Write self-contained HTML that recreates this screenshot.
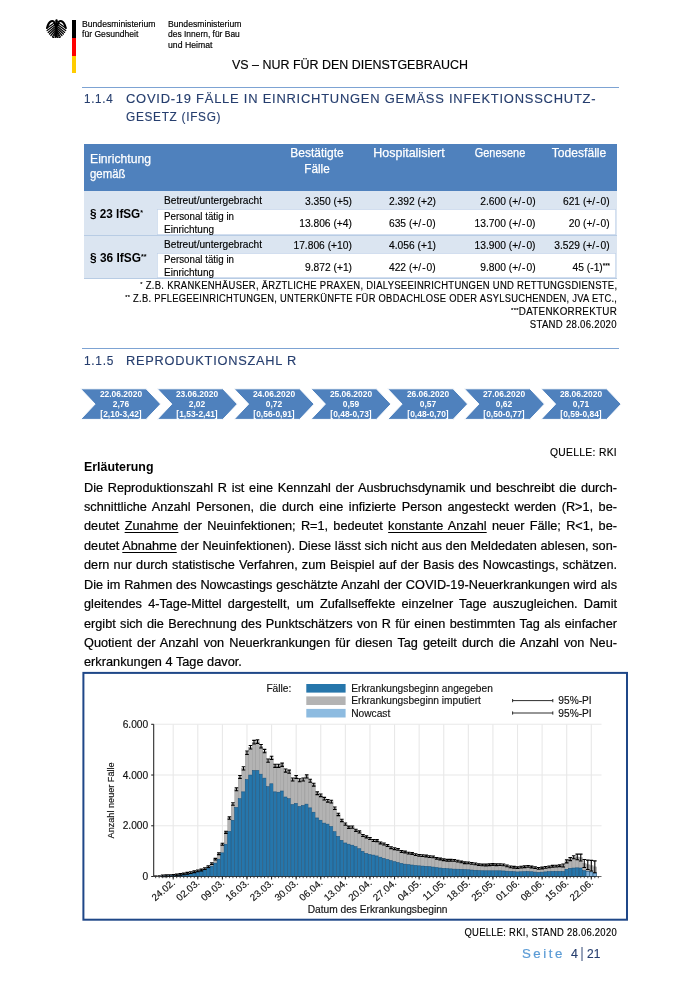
<!DOCTYPE html>
<html lang="de"><head><meta charset="utf-8"><title>Lagebericht COVID-19 – Seite 4</title>
<style>
html,body{margin:0;padding:0;background:#fff;}
body{width:700px;height:990px;position:relative;overflow:hidden;font-family:"Liberation Sans", sans-serif;}
.t{position:absolute;white-space:nowrap;margin:0;padding:0;}
.abs{position:absolute;}
sup{font-size:60%;line-height:0;vertical-align:baseline;position:relative;top:-0.45em;}
u{text-decoration-thickness:0.8px;text-underline-offset:1.5px;}
</style></head><body>
<div class="abs" style="left:72.2px;top:19.7px;width:3.8px;height:18px;background:#000"></div>
<div class="abs" style="left:72.2px;top:37.7px;width:3.8px;height:17.9px;background:#f00"></div>
<div class="abs" style="left:72.2px;top:55.6px;width:3.8px;height:17.6px;background:#ffcc00"></div>
<svg class="abs" style="left:46.1px;top:18.7px" width="20.8" height="19.8" viewBox="0 0 100 96"><g stroke="#000" fill="none" stroke-linecap="round"><path d="M36 22L3 45" stroke-width="6"/><path d="M64 22L97 45" stroke-width="6"/><path d="M40 30L5 56" stroke-width="6"/><path d="M60 30L95 56" stroke-width="6"/><path d="M43 38L10 65" stroke-width="6"/><path d="M57 38L90 65" stroke-width="6"/><path d="M44 46L16 73" stroke-width="6"/><path d="M56 46L84 73" stroke-width="6"/><path d="M45 54L23 80" stroke-width="6"/><path d="M55 54L77 80" stroke-width="6"/><path d="M45 62L31 86" stroke-width="6"/><path d="M55 62L69 86" stroke-width="6"/><path d="M44 30C42 12 33 7 25 11C15 16 8 30 5 42" stroke-width="10"/><path d="M56 30C58 12 67 7 75 11C85 16 92 30 95 42" stroke-width="10"/><path d="M46 64L37 88M37 88L31 93M37 88L40 95" stroke-width="5"/><path d="M54 64L63 88M63 88L69 93M63 88L60 95" stroke-width="5"/></g><path d="M50 1C55 1 57 5 56 9L62 12L55 14C56 20 57 26 57 32L56 66L58 94L50 90L42 94L44 66L43 32C43 26 44 20 45 14C43 8 45 1 50 1Z" fill="#000"/></svg>
<div class="abs" style="left:81.5px;top:86.5px;width:537px;height:1px;background:#7da3d3"></div>
<div class="abs" style="left:84px;top:143.5px;width:533px;height:47.5px;background:#4f81bd"></div>
<div class="abs" style="left:84px;top:191px;width:533px;height:87.80000000000001px;background:#dbe5f1"></div>
<div class="abs" style="left:157.1px;top:209.3px;width:459.4px;height:25.399999999999977px;background:#fff;box-shadow:inset 0 0 0 0.7px #c3d4ea"></div>
<div class="abs" style="left:157.1px;top:253.1px;width:459.4px;height:25.200000000000017px;background:#fff;box-shadow:inset 0 0 0 0.7px #c3d4ea"></div>
<div class="abs" style="left:84px;top:234.7px;width:533px;height:1px;background:#b8cce4"></div>
<div class="abs" style="left:84px;top:278.3px;width:533px;height:1px;background:#b8cce4"></div>
<div class="abs" style="left:81.5px;top:347.6px;width:537px;height:1px;background:#7da3d3"></div>
<svg class="abs" style="left:0;top:0" width="700" height="990" viewBox="0 0 700 990">
<path d="M80.6 388.8H146.1L160.6 404.1L146.1 419.4H80.6L95.1 404.1Z" fill="#4f81bd" stroke="#fff" stroke-width="1"/>
<path d="M157.3 388.8H222.8L237.3 404.1L222.8 419.4H157.3L171.8 404.1Z" fill="#4f81bd" stroke="#fff" stroke-width="1"/>
<path d="M234.1 388.8H299.6L314.1 404.1L299.6 419.4H234.1L248.6 404.1Z" fill="#4f81bd" stroke="#fff" stroke-width="1"/>
<path d="M310.9 388.8H376.4L390.9 404.1L376.4 419.4H310.9L325.4 404.1Z" fill="#4f81bd" stroke="#fff" stroke-width="1"/>
<path d="M387.6 388.8H453.1L467.6 404.1L453.1 419.4H387.6L402.1 404.1Z" fill="#4f81bd" stroke="#fff" stroke-width="1"/>
<path d="M464.4 388.8H529.9L544.4 404.1L529.9 419.4H464.4L478.9 404.1Z" fill="#4f81bd" stroke="#fff" stroke-width="1"/>
<path d="M541.1 388.8H606.6L621.1 404.1L606.6 419.4H541.1L555.6 404.1Z" fill="#4f81bd" stroke="#fff" stroke-width="1"/>
</svg>
<svg class="abs" style="left:0;top:0" width="700" height="990" viewBox="0 0 700 990" font-family="Liberation Sans, sans-serif">
<rect x="83.4" y="672.9" width="543.6" height="246.80000000000007" fill="#fff" stroke="#1f4788" stroke-width="2"/>
<line x1="173.20" x2="173.20" y1="724.3" y2="876.5" stroke="#e8e8e8" stroke-width="1.1"/>
<line x1="197.79" x2="197.79" y1="724.3" y2="876.5" stroke="#e8e8e8" stroke-width="1.1"/>
<line x1="222.39" x2="222.39" y1="724.3" y2="876.5" stroke="#e8e8e8" stroke-width="1.1"/>
<line x1="246.98" x2="246.98" y1="724.3" y2="876.5" stroke="#e8e8e8" stroke-width="1.1"/>
<line x1="271.58" x2="271.58" y1="724.3" y2="876.5" stroke="#e8e8e8" stroke-width="1.1"/>
<line x1="296.17" x2="296.17" y1="724.3" y2="876.5" stroke="#e8e8e8" stroke-width="1.1"/>
<line x1="320.76" x2="320.76" y1="724.3" y2="876.5" stroke="#e8e8e8" stroke-width="1.1"/>
<line x1="345.36" x2="345.36" y1="724.3" y2="876.5" stroke="#e8e8e8" stroke-width="1.1"/>
<line x1="369.95" x2="369.95" y1="724.3" y2="876.5" stroke="#e8e8e8" stroke-width="1.1"/>
<line x1="394.55" x2="394.55" y1="724.3" y2="876.5" stroke="#e8e8e8" stroke-width="1.1"/>
<line x1="419.14" x2="419.14" y1="724.3" y2="876.5" stroke="#e8e8e8" stroke-width="1.1"/>
<line x1="443.74" x2="443.74" y1="724.3" y2="876.5" stroke="#e8e8e8" stroke-width="1.1"/>
<line x1="468.33" x2="468.33" y1="724.3" y2="876.5" stroke="#e8e8e8" stroke-width="1.1"/>
<line x1="492.92" x2="492.92" y1="724.3" y2="876.5" stroke="#e8e8e8" stroke-width="1.1"/>
<line x1="517.52" x2="517.52" y1="724.3" y2="876.5" stroke="#e8e8e8" stroke-width="1.1"/>
<line x1="542.11" x2="542.11" y1="724.3" y2="876.5" stroke="#e8e8e8" stroke-width="1.1"/>
<line x1="566.71" x2="566.71" y1="724.3" y2="876.5" stroke="#e8e8e8" stroke-width="1.1"/>
<line x1="591.30" x2="591.30" y1="724.3" y2="876.5" stroke="#e8e8e8" stroke-width="1.1"/>
<line x1="153.7" x2="601.5" y1="825.77" y2="825.77" stroke="#e8e8e8" stroke-width="1.1"/>
<line x1="153.7" x2="601.5" y1="775.03" y2="775.03" stroke="#e8e8e8" stroke-width="1.1"/>
<line x1="153.7" x2="601.5" y1="724.30" y2="724.30" stroke="#e8e8e8" stroke-width="1.1"/>
<rect x="160.90" y="875.88" width="3.51" height="0.62" fill="#b3b3b3" stroke="#8f8f8f" stroke-width="0.35"/>
<rect x="160.90" y="876.00" width="3.51" height="0.50" fill="#2676ab" stroke="#17527e" stroke-width="0.55"/>
<rect x="164.42" y="875.74" width="3.51" height="0.76" fill="#b3b3b3" stroke="#8f8f8f" stroke-width="0.35"/>
<rect x="164.42" y="875.91" width="3.51" height="0.59" fill="#2676ab" stroke="#17527e" stroke-width="0.55"/>
<rect x="167.93" y="875.57" width="3.51" height="0.93" fill="#b3b3b3" stroke="#8f8f8f" stroke-width="0.35"/>
<rect x="167.93" y="875.83" width="3.51" height="0.67" fill="#2676ab" stroke="#17527e" stroke-width="0.55"/>
<rect x="171.44" y="875.31" width="3.51" height="1.19" fill="#b3b3b3" stroke="#8f8f8f" stroke-width="0.35"/>
<rect x="171.44" y="875.66" width="3.51" height="0.84" fill="#2676ab" stroke="#17527e" stroke-width="0.55"/>
<rect x="174.96" y="874.97" width="3.51" height="1.53" fill="#b3b3b3" stroke="#8f8f8f" stroke-width="0.35"/>
<rect x="174.96" y="875.40" width="3.51" height="1.10" fill="#2676ab" stroke="#17527e" stroke-width="0.55"/>
<rect x="178.47" y="874.46" width="3.51" height="2.04" fill="#b3b3b3" stroke="#8f8f8f" stroke-width="0.35"/>
<rect x="178.47" y="874.97" width="3.51" height="1.53" fill="#2676ab" stroke="#17527e" stroke-width="0.55"/>
<rect x="181.98" y="873.94" width="3.51" height="2.56" fill="#b3b3b3" stroke="#8f8f8f" stroke-width="0.35"/>
<rect x="181.98" y="874.54" width="3.51" height="1.96" fill="#2676ab" stroke="#17527e" stroke-width="0.55"/>
<rect x="185.50" y="873.26" width="3.51" height="3.24" fill="#b3b3b3" stroke="#8f8f8f" stroke-width="0.35"/>
<rect x="185.50" y="873.94" width="3.51" height="2.56" fill="#2676ab" stroke="#17527e" stroke-width="0.55"/>
<rect x="189.01" y="872.57" width="3.51" height="3.93" fill="#b3b3b3" stroke="#8f8f8f" stroke-width="0.35"/>
<rect x="189.01" y="873.34" width="3.51" height="3.16" fill="#2676ab" stroke="#17527e" stroke-width="0.55"/>
<rect x="192.52" y="871.71" width="3.51" height="4.79" fill="#b3b3b3" stroke="#8f8f8f" stroke-width="0.35"/>
<rect x="192.52" y="872.57" width="3.51" height="3.93" fill="#2676ab" stroke="#17527e" stroke-width="0.55"/>
<rect x="196.04" y="870.86" width="3.51" height="5.64" fill="#b3b3b3" stroke="#8f8f8f" stroke-width="0.35"/>
<rect x="196.04" y="871.80" width="3.51" height="4.70" fill="#2676ab" stroke="#17527e" stroke-width="0.55"/>
<rect x="199.55" y="870.00" width="3.51" height="6.50" fill="#b3b3b3" stroke="#8f8f8f" stroke-width="0.35"/>
<rect x="199.55" y="871.03" width="3.51" height="5.47" fill="#2676ab" stroke="#17527e" stroke-width="0.55"/>
<rect x="203.06" y="868.63" width="3.51" height="7.87" fill="#b3b3b3" stroke="#8f8f8f" stroke-width="0.35"/>
<rect x="203.06" y="869.83" width="3.51" height="6.67" fill="#2676ab" stroke="#17527e" stroke-width="0.55"/>
<rect x="206.58" y="866.57" width="3.51" height="9.93" fill="#b3b3b3" stroke="#8f8f8f" stroke-width="0.35"/>
<rect x="206.58" y="868.29" width="3.51" height="8.21" fill="#2676ab" stroke="#17527e" stroke-width="0.55"/>
<rect x="210.09" y="863.66" width="3.51" height="12.84" fill="#b3b3b3" stroke="#8f8f8f" stroke-width="0.35"/>
<rect x="210.09" y="866.23" width="3.51" height="10.27" fill="#2676ab" stroke="#17527e" stroke-width="0.55"/>
<rect x="213.60" y="859.20" width="3.51" height="17.30" fill="#b3b3b3" stroke="#8f8f8f" stroke-width="0.35"/>
<rect x="213.60" y="863.14" width="3.51" height="13.36" fill="#2676ab" stroke="#17527e" stroke-width="0.55"/>
<rect x="217.12" y="853.71" width="3.51" height="22.79" fill="#b3b3b3" stroke="#8f8f8f" stroke-width="0.35"/>
<rect x="217.12" y="859.20" width="3.51" height="17.30" fill="#2676ab" stroke="#17527e" stroke-width="0.55"/>
<rect x="220.63" y="844.29" width="3.51" height="32.21" fill="#b3b3b3" stroke="#8f8f8f" stroke-width="0.35"/>
<rect x="220.63" y="852.86" width="3.51" height="23.64" fill="#2676ab" stroke="#17527e" stroke-width="0.55"/>
<rect x="224.14" y="832.29" width="3.51" height="44.21" fill="#b3b3b3" stroke="#8f8f8f" stroke-width="0.35"/>
<rect x="224.14" y="844.29" width="3.51" height="32.21" fill="#2676ab" stroke="#17527e" stroke-width="0.55"/>
<rect x="227.66" y="818.06" width="3.51" height="58.44" fill="#b3b3b3" stroke="#8f8f8f" stroke-width="0.35"/>
<rect x="227.66" y="831.43" width="3.51" height="45.07" fill="#2676ab" stroke="#17527e" stroke-width="0.55"/>
<rect x="231.17" y="804.00" width="3.51" height="72.50" fill="#b3b3b3" stroke="#8f8f8f" stroke-width="0.35"/>
<rect x="231.17" y="820.29" width="3.51" height="56.21" fill="#2676ab" stroke="#17527e" stroke-width="0.55"/>
<rect x="234.69" y="789.29" width="3.51" height="87.21" fill="#b3b3b3" stroke="#8f8f8f" stroke-width="0.35"/>
<rect x="234.69" y="807.43" width="3.51" height="69.07" fill="#2676ab" stroke="#17527e" stroke-width="0.55"/>
<rect x="238.20" y="776.94" width="3.51" height="99.56" fill="#b3b3b3" stroke="#8f8f8f" stroke-width="0.35"/>
<rect x="238.20" y="798.71" width="3.51" height="77.79" fill="#2676ab" stroke="#17527e" stroke-width="0.55"/>
<rect x="241.71" y="768.37" width="3.51" height="108.13" fill="#b3b3b3" stroke="#8f8f8f" stroke-width="0.35"/>
<rect x="241.71" y="791.86" width="3.51" height="84.64" fill="#2676ab" stroke="#17527e" stroke-width="0.55"/>
<rect x="245.23" y="752.77" width="3.51" height="123.73" fill="#b3b3b3" stroke="#8f8f8f" stroke-width="0.35"/>
<rect x="245.23" y="779.51" width="3.51" height="96.99" fill="#2676ab" stroke="#17527e" stroke-width="0.55"/>
<rect x="248.74" y="747.29" width="3.51" height="129.21" fill="#b3b3b3" stroke="#8f8f8f" stroke-width="0.35"/>
<rect x="248.74" y="775.06" width="3.51" height="101.44" fill="#2676ab" stroke="#17527e" stroke-width="0.55"/>
<rect x="252.25" y="742.14" width="3.51" height="134.36" fill="#b3b3b3" stroke="#8f8f8f" stroke-width="0.35"/>
<rect x="252.25" y="770.43" width="3.51" height="106.07" fill="#2676ab" stroke="#17527e" stroke-width="0.55"/>
<rect x="255.77" y="741.63" width="3.51" height="134.87" fill="#b3b3b3" stroke="#8f8f8f" stroke-width="0.35"/>
<rect x="255.77" y="770.43" width="3.51" height="106.07" fill="#2676ab" stroke="#17527e" stroke-width="0.55"/>
<rect x="259.28" y="746.26" width="3.51" height="130.24" fill="#b3b3b3" stroke="#8f8f8f" stroke-width="0.35"/>
<rect x="259.28" y="774.20" width="3.51" height="102.30" fill="#2676ab" stroke="#17527e" stroke-width="0.55"/>
<rect x="262.79" y="751.06" width="3.51" height="125.44" fill="#b3b3b3" stroke="#8f8f8f" stroke-width="0.35"/>
<rect x="262.79" y="778.14" width="3.51" height="98.36" fill="#2676ab" stroke="#17527e" stroke-width="0.55"/>
<rect x="266.31" y="760.66" width="3.51" height="115.84" fill="#b3b3b3" stroke="#8f8f8f" stroke-width="0.35"/>
<rect x="266.31" y="786.71" width="3.51" height="89.79" fill="#2676ab" stroke="#17527e" stroke-width="0.55"/>
<rect x="269.82" y="757.91" width="3.51" height="118.59" fill="#b3b3b3" stroke="#8f8f8f" stroke-width="0.35"/>
<rect x="269.82" y="783.80" width="3.51" height="92.70" fill="#2676ab" stroke="#17527e" stroke-width="0.55"/>
<rect x="273.33" y="765.80" width="3.51" height="110.70" fill="#b3b3b3" stroke="#8f8f8f" stroke-width="0.35"/>
<rect x="273.33" y="791.86" width="3.51" height="84.64" fill="#2676ab" stroke="#17527e" stroke-width="0.55"/>
<rect x="276.85" y="765.80" width="3.51" height="110.70" fill="#b3b3b3" stroke="#8f8f8f" stroke-width="0.35"/>
<rect x="276.85" y="792.20" width="3.51" height="84.30" fill="#2676ab" stroke="#17527e" stroke-width="0.55"/>
<rect x="280.36" y="764.77" width="3.51" height="111.73" fill="#b3b3b3" stroke="#8f8f8f" stroke-width="0.35"/>
<rect x="280.36" y="791.00" width="3.51" height="85.50" fill="#2676ab" stroke="#17527e" stroke-width="0.55"/>
<rect x="283.87" y="770.60" width="3.51" height="105.90" fill="#b3b3b3" stroke="#8f8f8f" stroke-width="0.35"/>
<rect x="283.87" y="797.00" width="3.51" height="79.50" fill="#2676ab" stroke="#17527e" stroke-width="0.55"/>
<rect x="287.39" y="771.63" width="3.51" height="104.87" fill="#b3b3b3" stroke="#8f8f8f" stroke-width="0.35"/>
<rect x="287.39" y="798.71" width="3.51" height="77.79" fill="#2676ab" stroke="#17527e" stroke-width="0.55"/>
<rect x="290.90" y="779.51" width="3.51" height="96.99" fill="#b3b3b3" stroke="#8f8f8f" stroke-width="0.35"/>
<rect x="290.90" y="804.58" width="3.51" height="71.92" fill="#2676ab" stroke="#17527e" stroke-width="0.55"/>
<rect x="294.41" y="776.94" width="3.51" height="99.56" fill="#b3b3b3" stroke="#8f8f8f" stroke-width="0.35"/>
<rect x="294.41" y="803.43" width="3.51" height="73.07" fill="#2676ab" stroke="#17527e" stroke-width="0.55"/>
<rect x="297.93" y="780.20" width="3.51" height="96.30" fill="#b3b3b3" stroke="#8f8f8f" stroke-width="0.35"/>
<rect x="297.93" y="806.53" width="3.51" height="69.97" fill="#2676ab" stroke="#17527e" stroke-width="0.55"/>
<rect x="301.44" y="779.51" width="3.51" height="96.99" fill="#b3b3b3" stroke="#8f8f8f" stroke-width="0.35"/>
<rect x="301.44" y="805.52" width="3.51" height="70.98" fill="#2676ab" stroke="#17527e" stroke-width="0.55"/>
<rect x="304.95" y="776.43" width="3.51" height="100.07" fill="#b3b3b3" stroke="#8f8f8f" stroke-width="0.35"/>
<rect x="304.95" y="804.15" width="3.51" height="72.35" fill="#2676ab" stroke="#17527e" stroke-width="0.55"/>
<rect x="308.47" y="780.71" width="3.51" height="95.79" fill="#b3b3b3" stroke="#8f8f8f" stroke-width="0.35"/>
<rect x="308.47" y="807.87" width="3.51" height="68.63" fill="#2676ab" stroke="#17527e" stroke-width="0.55"/>
<rect x="311.98" y="784.66" width="3.51" height="91.84" fill="#b3b3b3" stroke="#8f8f8f" stroke-width="0.35"/>
<rect x="311.98" y="812.22" width="3.51" height="64.28" fill="#2676ab" stroke="#17527e" stroke-width="0.55"/>
<rect x="315.49" y="793.23" width="3.51" height="83.27" fill="#b3b3b3" stroke="#8f8f8f" stroke-width="0.35"/>
<rect x="315.49" y="817.95" width="3.51" height="58.55" fill="#2676ab" stroke="#17527e" stroke-width="0.55"/>
<rect x="319.01" y="795.29" width="3.51" height="81.21" fill="#b3b3b3" stroke="#8f8f8f" stroke-width="0.35"/>
<rect x="319.01" y="820.24" width="3.51" height="56.26" fill="#2676ab" stroke="#17527e" stroke-width="0.55"/>
<rect x="322.52" y="798.71" width="3.51" height="77.79" fill="#b3b3b3" stroke="#8f8f8f" stroke-width="0.35"/>
<rect x="322.52" y="823.12" width="3.51" height="53.38" fill="#2676ab" stroke="#17527e" stroke-width="0.55"/>
<rect x="326.03" y="800.86" width="3.51" height="75.64" fill="#b3b3b3" stroke="#8f8f8f" stroke-width="0.35"/>
<rect x="326.03" y="824.12" width="3.51" height="52.38" fill="#2676ab" stroke="#17527e" stroke-width="0.55"/>
<rect x="329.55" y="801.63" width="3.51" height="74.87" fill="#b3b3b3" stroke="#8f8f8f" stroke-width="0.35"/>
<rect x="329.55" y="826.58" width="3.51" height="49.92" fill="#2676ab" stroke="#17527e" stroke-width="0.55"/>
<rect x="333.06" y="808.29" width="3.51" height="68.21" fill="#b3b3b3" stroke="#8f8f8f" stroke-width="0.35"/>
<rect x="333.06" y="831.72" width="3.51" height="44.78" fill="#2676ab" stroke="#17527e" stroke-width="0.55"/>
<rect x="336.58" y="814.46" width="3.51" height="62.04" fill="#b3b3b3" stroke="#8f8f8f" stroke-width="0.35"/>
<rect x="336.58" y="836.40" width="3.51" height="40.10" fill="#2676ab" stroke="#17527e" stroke-width="0.55"/>
<rect x="340.09" y="820.43" width="3.51" height="56.07" fill="#b3b3b3" stroke="#8f8f8f" stroke-width="0.35"/>
<rect x="340.09" y="840.33" width="3.51" height="36.17" fill="#2676ab" stroke="#17527e" stroke-width="0.55"/>
<rect x="343.60" y="824.17" width="3.51" height="52.33" fill="#b3b3b3" stroke="#8f8f8f" stroke-width="0.35"/>
<rect x="343.60" y="842.98" width="3.51" height="33.52" fill="#2676ab" stroke="#17527e" stroke-width="0.55"/>
<rect x="347.12" y="827.26" width="3.51" height="49.24" fill="#b3b3b3" stroke="#8f8f8f" stroke-width="0.35"/>
<rect x="347.12" y="844.17" width="3.51" height="32.33" fill="#2676ab" stroke="#17527e" stroke-width="0.55"/>
<rect x="350.63" y="827.11" width="3.51" height="49.39" fill="#b3b3b3" stroke="#8f8f8f" stroke-width="0.35"/>
<rect x="350.63" y="845.19" width="3.51" height="31.31" fill="#2676ab" stroke="#17527e" stroke-width="0.55"/>
<rect x="354.14" y="830.28" width="3.51" height="46.22" fill="#b3b3b3" stroke="#8f8f8f" stroke-width="0.35"/>
<rect x="354.14" y="846.65" width="3.51" height="29.85" fill="#2676ab" stroke="#17527e" stroke-width="0.55"/>
<rect x="357.66" y="831.90" width="3.51" height="44.60" fill="#b3b3b3" stroke="#8f8f8f" stroke-width="0.35"/>
<rect x="357.66" y="848.73" width="3.51" height="27.77" fill="#2676ab" stroke="#17527e" stroke-width="0.55"/>
<rect x="361.17" y="835.52" width="3.51" height="40.98" fill="#b3b3b3" stroke="#8f8f8f" stroke-width="0.35"/>
<rect x="361.17" y="851.36" width="3.51" height="25.14" fill="#2676ab" stroke="#17527e" stroke-width="0.55"/>
<rect x="364.68" y="836.86" width="3.51" height="39.64" fill="#b3b3b3" stroke="#8f8f8f" stroke-width="0.35"/>
<rect x="364.68" y="853.46" width="3.51" height="23.04" fill="#2676ab" stroke="#17527e" stroke-width="0.55"/>
<rect x="368.20" y="838.51" width="3.51" height="37.99" fill="#b3b3b3" stroke="#8f8f8f" stroke-width="0.35"/>
<rect x="368.20" y="854.47" width="3.51" height="22.03" fill="#2676ab" stroke="#17527e" stroke-width="0.55"/>
<rect x="371.71" y="840.50" width="3.51" height="36.00" fill="#b3b3b3" stroke="#8f8f8f" stroke-width="0.35"/>
<rect x="371.71" y="855.10" width="3.51" height="21.40" fill="#2676ab" stroke="#17527e" stroke-width="0.55"/>
<rect x="375.22" y="840.62" width="3.51" height="35.88" fill="#b3b3b3" stroke="#8f8f8f" stroke-width="0.35"/>
<rect x="375.22" y="855.95" width="3.51" height="20.55" fill="#2676ab" stroke="#17527e" stroke-width="0.55"/>
<rect x="378.74" y="842.91" width="3.51" height="33.59" fill="#b3b3b3" stroke="#8f8f8f" stroke-width="0.35"/>
<rect x="378.74" y="857.21" width="3.51" height="19.29" fill="#2676ab" stroke="#17527e" stroke-width="0.55"/>
<rect x="382.25" y="843.96" width="3.51" height="32.54" fill="#b3b3b3" stroke="#8f8f8f" stroke-width="0.35"/>
<rect x="382.25" y="858.42" width="3.51" height="18.08" fill="#2676ab" stroke="#17527e" stroke-width="0.55"/>
<rect x="385.76" y="845.58" width="3.51" height="30.92" fill="#b3b3b3" stroke="#8f8f8f" stroke-width="0.35"/>
<rect x="385.76" y="859.50" width="3.51" height="17.00" fill="#2676ab" stroke="#17527e" stroke-width="0.55"/>
<rect x="389.28" y="847.64" width="3.51" height="28.86" fill="#b3b3b3" stroke="#8f8f8f" stroke-width="0.35"/>
<rect x="389.28" y="860.58" width="3.51" height="15.92" fill="#2676ab" stroke="#17527e" stroke-width="0.55"/>
<rect x="392.79" y="848.67" width="3.51" height="27.83" fill="#b3b3b3" stroke="#8f8f8f" stroke-width="0.35"/>
<rect x="392.79" y="861.63" width="3.51" height="14.87" fill="#2676ab" stroke="#17527e" stroke-width="0.55"/>
<rect x="396.30" y="849.37" width="3.51" height="27.13" fill="#b3b3b3" stroke="#8f8f8f" stroke-width="0.35"/>
<rect x="396.30" y="862.51" width="3.51" height="13.99" fill="#2676ab" stroke="#17527e" stroke-width="0.55"/>
<rect x="399.82" y="851.47" width="3.51" height="25.03" fill="#b3b3b3" stroke="#8f8f8f" stroke-width="0.35"/>
<rect x="399.82" y="863.39" width="3.51" height="13.11" fill="#2676ab" stroke="#17527e" stroke-width="0.55"/>
<rect x="403.33" y="852.00" width="3.51" height="24.50" fill="#b3b3b3" stroke="#8f8f8f" stroke-width="0.35"/>
<rect x="403.33" y="864.16" width="3.51" height="12.34" fill="#2676ab" stroke="#17527e" stroke-width="0.55"/>
<rect x="406.84" y="853.15" width="3.51" height="23.35" fill="#b3b3b3" stroke="#8f8f8f" stroke-width="0.35"/>
<rect x="406.84" y="864.59" width="3.51" height="11.91" fill="#2676ab" stroke="#17527e" stroke-width="0.55"/>
<rect x="410.36" y="853.48" width="3.51" height="23.02" fill="#b3b3b3" stroke="#8f8f8f" stroke-width="0.35"/>
<rect x="410.36" y="865.02" width="3.51" height="11.48" fill="#2676ab" stroke="#17527e" stroke-width="0.55"/>
<rect x="413.87" y="854.69" width="3.51" height="21.81" fill="#b3b3b3" stroke="#8f8f8f" stroke-width="0.35"/>
<rect x="413.87" y="865.44" width="3.51" height="11.06" fill="#2676ab" stroke="#17527e" stroke-width="0.55"/>
<rect x="417.38" y="855.37" width="3.51" height="21.13" fill="#b3b3b3" stroke="#8f8f8f" stroke-width="0.35"/>
<rect x="417.38" y="865.83" width="3.51" height="10.67" fill="#2676ab" stroke="#17527e" stroke-width="0.55"/>
<rect x="420.90" y="855.65" width="3.51" height="20.85" fill="#b3b3b3" stroke="#8f8f8f" stroke-width="0.35"/>
<rect x="420.90" y="866.09" width="3.51" height="10.41" fill="#2676ab" stroke="#17527e" stroke-width="0.55"/>
<rect x="424.41" y="856.00" width="3.51" height="20.50" fill="#b3b3b3" stroke="#8f8f8f" stroke-width="0.35"/>
<rect x="424.41" y="866.36" width="3.51" height="10.14" fill="#2676ab" stroke="#17527e" stroke-width="0.55"/>
<rect x="427.92" y="856.66" width="3.51" height="19.84" fill="#b3b3b3" stroke="#8f8f8f" stroke-width="0.35"/>
<rect x="427.92" y="866.62" width="3.51" height="9.88" fill="#2676ab" stroke="#17527e" stroke-width="0.55"/>
<rect x="431.44" y="856.88" width="3.51" height="19.62" fill="#b3b3b3" stroke="#8f8f8f" stroke-width="0.35"/>
<rect x="431.44" y="867.07" width="3.51" height="9.43" fill="#2676ab" stroke="#17527e" stroke-width="0.55"/>
<rect x="434.95" y="858.44" width="3.51" height="18.06" fill="#b3b3b3" stroke="#8f8f8f" stroke-width="0.35"/>
<rect x="434.95" y="867.53" width="3.51" height="8.97" fill="#2676ab" stroke="#17527e" stroke-width="0.55"/>
<rect x="438.47" y="859.03" width="3.51" height="17.47" fill="#b3b3b3" stroke="#8f8f8f" stroke-width="0.35"/>
<rect x="438.47" y="868.00" width="3.51" height="8.50" fill="#2676ab" stroke="#17527e" stroke-width="0.55"/>
<rect x="441.98" y="859.72" width="3.51" height="16.78" fill="#b3b3b3" stroke="#8f8f8f" stroke-width="0.35"/>
<rect x="441.98" y="868.41" width="3.51" height="8.09" fill="#2676ab" stroke="#17527e" stroke-width="0.55"/>
<rect x="445.49" y="860.24" width="3.51" height="16.26" fill="#b3b3b3" stroke="#8f8f8f" stroke-width="0.35"/>
<rect x="445.49" y="868.65" width="3.51" height="7.85" fill="#2676ab" stroke="#17527e" stroke-width="0.55"/>
<rect x="449.01" y="860.28" width="3.51" height="16.22" fill="#b3b3b3" stroke="#8f8f8f" stroke-width="0.35"/>
<rect x="449.01" y="868.88" width="3.51" height="7.62" fill="#2676ab" stroke="#17527e" stroke-width="0.55"/>
<rect x="452.52" y="860.32" width="3.51" height="16.18" fill="#b3b3b3" stroke="#8f8f8f" stroke-width="0.35"/>
<rect x="452.52" y="869.12" width="3.51" height="7.38" fill="#2676ab" stroke="#17527e" stroke-width="0.55"/>
<rect x="456.03" y="861.13" width="3.51" height="15.37" fill="#b3b3b3" stroke="#8f8f8f" stroke-width="0.35"/>
<rect x="456.03" y="869.20" width="3.51" height="7.30" fill="#2676ab" stroke="#17527e" stroke-width="0.55"/>
<rect x="459.55" y="861.96" width="3.51" height="14.54" fill="#b3b3b3" stroke="#8f8f8f" stroke-width="0.35"/>
<rect x="459.55" y="869.28" width="3.51" height="7.22" fill="#2676ab" stroke="#17527e" stroke-width="0.55"/>
<rect x="463.06" y="862.74" width="3.51" height="13.76" fill="#b3b3b3" stroke="#8f8f8f" stroke-width="0.35"/>
<rect x="463.06" y="869.52" width="3.51" height="6.98" fill="#2676ab" stroke="#17527e" stroke-width="0.55"/>
<rect x="466.57" y="862.85" width="3.51" height="13.65" fill="#b3b3b3" stroke="#8f8f8f" stroke-width="0.35"/>
<rect x="466.57" y="869.77" width="3.51" height="6.73" fill="#2676ab" stroke="#17527e" stroke-width="0.55"/>
<rect x="470.09" y="863.33" width="3.51" height="13.17" fill="#b3b3b3" stroke="#8f8f8f" stroke-width="0.35"/>
<rect x="470.09" y="870.01" width="3.51" height="6.49" fill="#2676ab" stroke="#17527e" stroke-width="0.55"/>
<rect x="473.60" y="863.90" width="3.51" height="12.60" fill="#b3b3b3" stroke="#8f8f8f" stroke-width="0.35"/>
<rect x="473.60" y="870.26" width="3.51" height="6.24" fill="#2676ab" stroke="#17527e" stroke-width="0.55"/>
<rect x="477.11" y="864.55" width="3.51" height="11.95" fill="#b3b3b3" stroke="#8f8f8f" stroke-width="0.35"/>
<rect x="477.11" y="870.51" width="3.51" height="5.99" fill="#2676ab" stroke="#17527e" stroke-width="0.55"/>
<rect x="480.63" y="864.94" width="3.51" height="11.56" fill="#b3b3b3" stroke="#8f8f8f" stroke-width="0.35"/>
<rect x="480.63" y="870.75" width="3.51" height="5.75" fill="#2676ab" stroke="#17527e" stroke-width="0.55"/>
<rect x="484.14" y="865.00" width="3.51" height="11.50" fill="#b3b3b3" stroke="#8f8f8f" stroke-width="0.35"/>
<rect x="484.14" y="870.79" width="3.51" height="5.71" fill="#2676ab" stroke="#17527e" stroke-width="0.55"/>
<rect x="487.65" y="864.76" width="3.51" height="11.74" fill="#b3b3b3" stroke="#8f8f8f" stroke-width="0.35"/>
<rect x="487.65" y="870.79" width="3.51" height="5.71" fill="#2676ab" stroke="#17527e" stroke-width="0.55"/>
<rect x="491.17" y="864.52" width="3.51" height="11.98" fill="#b3b3b3" stroke="#8f8f8f" stroke-width="0.35"/>
<rect x="491.17" y="870.79" width="3.51" height="5.71" fill="#2676ab" stroke="#17527e" stroke-width="0.55"/>
<rect x="494.68" y="864.74" width="3.51" height="11.76" fill="#b3b3b3" stroke="#8f8f8f" stroke-width="0.35"/>
<rect x="494.68" y="870.79" width="3.51" height="5.71" fill="#2676ab" stroke="#17527e" stroke-width="0.55"/>
<rect x="498.19" y="864.66" width="3.51" height="11.84" fill="#b3b3b3" stroke="#8f8f8f" stroke-width="0.35"/>
<rect x="498.19" y="870.79" width="3.51" height="5.71" fill="#2676ab" stroke="#17527e" stroke-width="0.55"/>
<rect x="501.71" y="864.85" width="3.51" height="11.65" fill="#b3b3b3" stroke="#8f8f8f" stroke-width="0.35"/>
<rect x="501.71" y="870.95" width="3.51" height="5.55" fill="#2676ab" stroke="#17527e" stroke-width="0.55"/>
<rect x="505.22" y="865.84" width="3.51" height="10.66" fill="#b3b3b3" stroke="#8f8f8f" stroke-width="0.35"/>
<rect x="505.22" y="871.20" width="3.51" height="5.30" fill="#2676ab" stroke="#17527e" stroke-width="0.55"/>
<rect x="508.73" y="866.83" width="3.51" height="9.67" fill="#b3b3b3" stroke="#8f8f8f" stroke-width="0.35"/>
<rect x="508.73" y="871.45" width="3.51" height="5.05" fill="#2676ab" stroke="#17527e" stroke-width="0.55"/>
<rect x="512.25" y="867.29" width="3.51" height="9.21" fill="#b3b3b3" stroke="#8f8f8f" stroke-width="0.35"/>
<rect x="512.25" y="871.70" width="3.51" height="4.80" fill="#2676ab" stroke="#17527e" stroke-width="0.55"/>
<rect x="515.76" y="867.70" width="3.51" height="8.80" fill="#b3b3b3" stroke="#8f8f8f" stroke-width="0.35"/>
<rect x="515.76" y="871.91" width="3.51" height="4.59" fill="#2676ab" stroke="#17527e" stroke-width="0.55"/>
<rect x="519.27" y="867.13" width="3.51" height="9.37" fill="#b3b3b3" stroke="#8f8f8f" stroke-width="0.35"/>
<rect x="519.27" y="871.77" width="3.51" height="4.73" fill="#2676ab" stroke="#17527e" stroke-width="0.55"/>
<rect x="522.79" y="866.76" width="3.51" height="9.74" fill="#b3b3b3" stroke="#8f8f8f" stroke-width="0.35"/>
<rect x="522.79" y="871.63" width="3.51" height="4.87" fill="#2676ab" stroke="#17527e" stroke-width="0.55"/>
<rect x="526.30" y="866.35" width="3.51" height="10.15" fill="#b3b3b3" stroke="#8f8f8f" stroke-width="0.35"/>
<rect x="526.30" y="871.49" width="3.51" height="5.01" fill="#2676ab" stroke="#17527e" stroke-width="0.55"/>
<rect x="529.81" y="866.97" width="3.51" height="9.53" fill="#b3b3b3" stroke="#8f8f8f" stroke-width="0.35"/>
<rect x="529.81" y="871.74" width="3.51" height="4.76" fill="#2676ab" stroke="#17527e" stroke-width="0.55"/>
<rect x="533.33" y="867.59" width="3.51" height="8.91" fill="#b3b3b3" stroke="#8f8f8f" stroke-width="0.35"/>
<rect x="533.33" y="872.05" width="3.51" height="4.45" fill="#2676ab" stroke="#17527e" stroke-width="0.55"/>
<rect x="536.84" y="868.41" width="3.51" height="8.09" fill="#b3b3b3" stroke="#8f8f8f" stroke-width="0.35"/>
<rect x="536.84" y="872.36" width="3.51" height="4.14" fill="#2676ab" stroke="#17527e" stroke-width="0.55"/>
<rect x="540.36" y="868.02" width="3.51" height="8.48" fill="#b3b3b3" stroke="#8f8f8f" stroke-width="0.35"/>
<rect x="540.36" y="872.15" width="3.51" height="4.35" fill="#2676ab" stroke="#17527e" stroke-width="0.55"/>
<rect x="543.87" y="867.41" width="3.51" height="9.09" fill="#b3b3b3" stroke="#8f8f8f" stroke-width="0.35"/>
<rect x="543.87" y="871.89" width="3.51" height="4.61" fill="#2676ab" stroke="#17527e" stroke-width="0.55"/>
<rect x="547.38" y="866.87" width="3.51" height="9.63" fill="#b3b3b3" stroke="#8f8f8f" stroke-width="0.35"/>
<rect x="547.38" y="871.64" width="3.51" height="4.86" fill="#2676ab" stroke="#17527e" stroke-width="0.55"/>
<rect x="550.90" y="866.26" width="3.51" height="10.24" fill="#b3b3b3" stroke="#8f8f8f" stroke-width="0.35"/>
<rect x="550.90" y="871.47" width="3.51" height="5.03" fill="#2676ab" stroke="#17527e" stroke-width="0.55"/>
<rect x="554.41" y="866.17" width="3.51" height="10.33" fill="#b3b3b3" stroke="#8f8f8f" stroke-width="0.35"/>
<rect x="554.41" y="871.47" width="3.51" height="5.03" fill="#2676ab" stroke="#17527e" stroke-width="0.55"/>
<rect x="557.92" y="865.76" width="3.51" height="10.74" fill="#b3b3b3" stroke="#8f8f8f" stroke-width="0.35"/>
<rect x="557.92" y="871.47" width="3.51" height="5.03" fill="#2676ab" stroke="#17527e" stroke-width="0.55"/>
<rect x="561.44" y="865.50" width="3.51" height="11.00" fill="#b3b3b3" stroke="#8f8f8f" stroke-width="0.35"/>
<rect x="561.44" y="871.47" width="3.51" height="5.03" fill="#2676ab" stroke="#17527e" stroke-width="0.55"/>
<rect x="564.95" y="861.40" width="3.51" height="15.10" fill="#b3b3b3" stroke="#8f8f8f" stroke-width="0.35"/>
<rect x="564.95" y="869.28" width="3.51" height="7.22" fill="#2676ab" stroke="#17527e" stroke-width="0.55"/>
<rect x="568.46" y="859.10" width="3.51" height="17.40" fill="#b3b3b3" stroke="#8f8f8f" stroke-width="0.35"/>
<rect x="568.46" y="868.29" width="3.51" height="8.21" fill="#2676ab" stroke="#17527e" stroke-width="0.55"/>
<rect x="571.98" y="857.30" width="3.51" height="19.20" fill="#b3b3b3" stroke="#8f8f8f" stroke-width="0.35"/>
<rect x="571.98" y="868.03" width="3.51" height="8.47" fill="#2676ab" stroke="#17527e" stroke-width="0.55"/>
<rect x="575.49" y="856.94" width="3.51" height="19.56" fill="#b3b3b3" stroke="#8f8f8f" stroke-width="0.35"/>
<rect x="575.49" y="867.85" width="3.51" height="8.65" fill="#2676ab" stroke="#17527e" stroke-width="0.55"/>
<rect x="579.00" y="857.56" width="3.51" height="18.94" fill="#b3b3b3" stroke="#8f8f8f" stroke-width="0.35"/>
<rect x="579.00" y="868.02" width="3.51" height="8.48" fill="#2676ab" stroke="#17527e" stroke-width="0.55"/>
<rect x="582.52" y="863.49" width="3.51" height="13.01" fill="#b3b3b3" stroke="#8f8f8f" stroke-width="0.35"/>
<rect x="582.52" y="870.63" width="3.51" height="5.87" fill="#2676ab" stroke="#17527e" stroke-width="0.55"/>
<rect x="586.03" y="864.79" width="3.51" height="11.71" fill="#b3b3b3" stroke="#8f8f8f" stroke-width="0.35"/>
<rect x="586.03" y="871.27" width="3.51" height="5.23" fill="#7fb0d8" stroke="#17527e" stroke-width="0.55"/>
<rect x="589.54" y="865.69" width="3.51" height="10.81" fill="#b3b3b3" stroke="#8f8f8f" stroke-width="0.35"/>
<rect x="589.54" y="871.91" width="3.51" height="4.59" fill="#7fb0d8" stroke="#17527e" stroke-width="0.55"/>
<rect x="593.06" y="866.85" width="3.51" height="9.65" fill="#b3b3b3" stroke="#8f8f8f" stroke-width="0.35"/>
<rect x="593.06" y="873.01" width="3.51" height="3.49" fill="#7fb0d8" stroke="#17527e" stroke-width="0.55"/>
<line x1="154.03" x2="157.23" y1="875.97" y2="875.97" stroke="#000" stroke-width="1.1"/>
<line x1="157.55" x2="160.75" y1="875.83" y2="875.83" stroke="#000" stroke-width="1.1"/>
<path d="M160.86 875.02H164.46M160.86 876.74H164.46M162.66 875.02V876.74" stroke="#000" stroke-width="1.1" fill="none"/>
<path d="M164.37 874.88H167.97M164.37 876.61H167.97M166.17 874.88V876.61" stroke="#000" stroke-width="1.1" fill="none"/>
<path d="M167.89 874.71H171.49M167.89 876.43H171.49M169.69 874.71V876.43" stroke="#000" stroke-width="1.1" fill="none"/>
<path d="M171.40 874.45H175.00M171.40 876.18H175.00M173.20 874.45V876.18" stroke="#000" stroke-width="1.1" fill="none"/>
<path d="M174.91 874.11H178.51M174.91 875.83H178.51M176.71 874.11V875.83" stroke="#000" stroke-width="1.1" fill="none"/>
<path d="M178.43 873.60H182.03M178.43 875.32H182.03M180.23 873.60V875.32" stroke="#000" stroke-width="1.1" fill="none"/>
<path d="M181.94 873.08H185.54M181.94 874.81H185.54M183.74 873.08V874.81" stroke="#000" stroke-width="1.1" fill="none"/>
<path d="M185.45 872.40H189.05M185.45 874.12H189.05M187.25 872.40V874.12" stroke="#000" stroke-width="1.1" fill="none"/>
<path d="M188.97 871.71H192.57M188.97 873.43H192.57M190.77 871.71V873.43" stroke="#000" stroke-width="1.1" fill="none"/>
<path d="M192.48 870.85H196.08M192.48 872.58H196.08M194.28 870.85V872.58" stroke="#000" stroke-width="1.1" fill="none"/>
<path d="M195.99 870.00H199.59M195.99 871.72H199.59M197.79 870.00V871.72" stroke="#000" stroke-width="1.1" fill="none"/>
<path d="M199.51 869.14H203.11M199.51 870.86H203.11M201.31 869.14V870.86" stroke="#000" stroke-width="1.1" fill="none"/>
<path d="M203.02 867.77H206.62M203.02 869.49H206.62M204.82 867.77V869.49" stroke="#000" stroke-width="1.1" fill="none"/>
<path d="M206.53 865.71H210.13M206.53 867.43H210.13M208.33 865.71V867.43" stroke="#000" stroke-width="1.1" fill="none"/>
<path d="M210.05 862.80H213.65M210.05 864.52H213.65M211.85 862.80V864.52" stroke="#000" stroke-width="1.1" fill="none"/>
<path d="M213.56 858.34H217.16M213.56 860.06H217.16M215.36 858.34V860.06" stroke="#000" stroke-width="1.1" fill="none"/>
<path d="M217.07 852.82H220.67M217.07 854.61H220.67M218.87 852.82V854.61" stroke="#000" stroke-width="1.1" fill="none"/>
<path d="M220.59 843.32H224.19M220.59 845.25H224.19M222.39 843.32V845.25" stroke="#000" stroke-width="1.1" fill="none"/>
<path d="M224.10 831.22H227.70M224.10 833.35H227.70M225.90 831.22V833.35" stroke="#000" stroke-width="1.1" fill="none"/>
<path d="M227.62 816.88H231.22M227.62 819.24H231.22M229.42 816.88V819.24" stroke="#000" stroke-width="1.1" fill="none"/>
<path d="M231.13 802.71H234.73M231.13 805.29H234.73M232.93 802.71V805.29" stroke="#000" stroke-width="1.1" fill="none"/>
<path d="M234.64 787.88H238.24M234.64 790.69H238.24M236.44 787.88V790.69" stroke="#000" stroke-width="1.1" fill="none"/>
<path d="M238.16 775.44H241.76M238.16 778.45H241.76M239.96 775.44V778.45" stroke="#000" stroke-width="1.1" fill="none"/>
<path d="M241.67 766.80H245.27M241.67 769.95H245.27M243.47 766.80V769.95" stroke="#000" stroke-width="1.1" fill="none"/>
<path d="M245.18 751.07H248.78M245.18 754.47H248.78M246.98 751.07V754.47" stroke="#000" stroke-width="1.1" fill="none"/>
<path d="M248.70 745.54H252.30M248.70 749.03H252.30M250.50 745.54V749.03" stroke="#000" stroke-width="1.1" fill="none"/>
<path d="M252.21 740.36H255.81M252.21 743.93H255.81M254.01 740.36V743.93" stroke="#000" stroke-width="1.1" fill="none"/>
<path d="M255.72 739.84H259.32M255.72 743.42H259.32M257.52 739.84V743.42" stroke="#000" stroke-width="1.1" fill="none"/>
<path d="M259.24 744.51H262.84M259.24 748.01H262.84M261.04 744.51V748.01" stroke="#000" stroke-width="1.1" fill="none"/>
<path d="M262.75 749.34H266.35M262.75 752.77H266.35M264.55 749.34V752.77" stroke="#000" stroke-width="1.1" fill="none"/>
<path d="M266.26 759.02H269.86M266.26 762.29H269.86M268.06 759.02V762.29" stroke="#000" stroke-width="1.1" fill="none"/>
<path d="M269.78 756.26H273.38M269.78 759.57H273.38M271.58 756.26V759.57" stroke="#000" stroke-width="1.1" fill="none"/>
<path d="M273.29 764.20H276.89M273.29 767.40H276.89M275.09 764.20V767.40" stroke="#000" stroke-width="1.1" fill="none"/>
<path d="M276.80 764.20H280.40M276.80 767.40H280.40M278.60 764.20V767.40" stroke="#000" stroke-width="1.1" fill="none"/>
<path d="M280.32 763.17H283.92M280.32 766.38H283.92M282.12 763.17V766.38" stroke="#000" stroke-width="1.1" fill="none"/>
<path d="M283.83 769.04H287.43M283.83 772.16H287.43M285.63 769.04V772.16" stroke="#000" stroke-width="1.1" fill="none"/>
<path d="M287.34 770.08H290.94M287.34 773.18H290.94M289.14 770.08V773.18" stroke="#000" stroke-width="1.1" fill="none"/>
<path d="M290.86 778.03H294.46M290.86 781.00H294.46M292.66 778.03V781.00" stroke="#000" stroke-width="1.1" fill="none"/>
<path d="M294.37 775.44H297.97M294.37 778.45H297.97M296.17 775.44V778.45" stroke="#000" stroke-width="1.1" fill="none"/>
<path d="M297.88 778.72H301.48M297.88 781.68H301.48M299.68 778.72V781.68" stroke="#000" stroke-width="1.1" fill="none"/>
<path d="M301.40 778.03H305.00M301.40 781.00H305.00M303.20 778.03V781.00" stroke="#000" stroke-width="1.1" fill="none"/>
<path d="M304.91 774.92H308.51M304.91 777.94H308.51M306.71 774.92V777.94" stroke="#000" stroke-width="1.1" fill="none"/>
<path d="M308.42 779.24H312.02M308.42 782.19H312.02M310.22 779.24V782.19" stroke="#000" stroke-width="1.1" fill="none"/>
<path d="M311.94 783.21H315.54M311.94 786.10H315.54M313.74 783.21V786.10" stroke="#000" stroke-width="1.1" fill="none"/>
<path d="M315.45 791.85H319.05M315.45 794.61H319.05M317.25 791.85V794.61" stroke="#000" stroke-width="1.1" fill="none"/>
<path d="M318.96 793.93H322.56M318.96 796.65H322.56M320.76 793.93V796.65" stroke="#000" stroke-width="1.1" fill="none"/>
<path d="M322.48 797.38H326.08M322.48 800.05H326.08M324.28 797.38V800.05" stroke="#000" stroke-width="1.1" fill="none"/>
<path d="M325.99 799.54H329.59M325.99 802.17H329.59M327.79 799.54V802.17" stroke="#000" stroke-width="1.1" fill="none"/>
<path d="M329.51 800.32H333.11M329.51 802.94H333.11M331.31 800.32V802.94" stroke="#000" stroke-width="1.1" fill="none"/>
<path d="M333.02 807.03H336.62M333.02 809.54H336.62M334.82 807.03V809.54" stroke="#000" stroke-width="1.1" fill="none"/>
<path d="M336.53 813.26H340.13M336.53 815.67H340.13M338.33 813.26V815.67" stroke="#000" stroke-width="1.1" fill="none"/>
<path d="M340.05 819.28H343.65M340.05 821.59H343.65M341.85 819.28V821.59" stroke="#000" stroke-width="1.1" fill="none"/>
<path d="M343.56 823.04H347.16M343.56 825.30H347.16M345.36 823.04V825.30" stroke="#000" stroke-width="1.1" fill="none"/>
<path d="M347.07 826.16H350.67M347.07 828.37H350.67M348.87 826.16V828.37" stroke="#000" stroke-width="1.1" fill="none"/>
<path d="M350.59 826.01H354.19M350.59 828.22H354.19M352.39 826.01V828.22" stroke="#000" stroke-width="1.1" fill="none"/>
<path d="M354.10 829.20H357.70M354.10 831.36H357.70M355.90 829.20V831.36" stroke="#000" stroke-width="1.1" fill="none"/>
<path d="M357.61 830.84H361.21M357.61 832.97H361.21M359.41 830.84V832.97" stroke="#000" stroke-width="1.1" fill="none"/>
<path d="M361.13 834.48H364.73M361.13 836.55H364.73M362.93 834.48V836.55" stroke="#000" stroke-width="1.1" fill="none"/>
<path d="M364.64 835.83H368.24M364.64 837.88H368.24M366.44 835.83V837.88" stroke="#000" stroke-width="1.1" fill="none"/>
<path d="M368.15 837.49H371.75M368.15 839.52H371.75M369.95 837.49V839.52" stroke="#000" stroke-width="1.1" fill="none"/>
<path d="M371.67 839.50H375.27M371.67 841.50H375.27M373.47 839.50V841.50" stroke="#000" stroke-width="1.1" fill="none"/>
<path d="M375.18 839.63H378.78M375.18 841.62H378.78M376.98 839.63V841.62" stroke="#000" stroke-width="1.1" fill="none"/>
<path d="M378.69 841.93H382.29M378.69 843.89H382.29M380.49 841.93V843.89" stroke="#000" stroke-width="1.1" fill="none"/>
<path d="M382.21 842.99H385.81M382.21 844.93H385.81M384.01 842.99V844.93" stroke="#000" stroke-width="1.1" fill="none"/>
<path d="M385.72 844.63H389.32M385.72 846.54H389.32M387.52 844.63V846.54" stroke="#000" stroke-width="1.1" fill="none"/>
<path d="M389.23 846.69H392.83M389.23 848.58H392.83M391.03 846.69V848.58" stroke="#000" stroke-width="1.1" fill="none"/>
<path d="M392.75 847.74H396.35M392.75 849.60H396.35M394.55 847.74V849.60" stroke="#000" stroke-width="1.1" fill="none"/>
<path d="M396.26 848.44H399.86M396.26 850.30H399.86M398.06 848.44V850.30" stroke="#000" stroke-width="1.1" fill="none"/>
<path d="M399.77 850.56H403.37M399.77 852.38H403.37M401.57 850.56V852.38" stroke="#000" stroke-width="1.1" fill="none"/>
<path d="M403.29 851.09H406.89M403.29 852.90H406.89M405.09 851.09V852.90" stroke="#000" stroke-width="1.1" fill="none"/>
<path d="M406.80 852.26H410.40M406.80 854.05H410.40M408.60 852.26V854.05" stroke="#000" stroke-width="1.1" fill="none"/>
<path d="M410.31 852.59H413.91M410.31 854.38H413.91M412.11 852.59V854.38" stroke="#000" stroke-width="1.1" fill="none"/>
<path d="M413.83 853.80H417.43M413.83 855.57H417.43M415.63 853.80V855.57" stroke="#000" stroke-width="1.1" fill="none"/>
<path d="M417.34 854.50H420.94M417.34 856.25H420.94M419.14 854.50V856.25" stroke="#000" stroke-width="1.1" fill="none"/>
<path d="M420.85 854.77H424.45M420.85 856.52H424.45M422.65 854.77V856.52" stroke="#000" stroke-width="1.1" fill="none"/>
<path d="M424.37 855.13H427.97M424.37 856.88H427.97M426.17 855.13V856.88" stroke="#000" stroke-width="1.1" fill="none"/>
<path d="M427.88 855.79H431.48M427.88 857.53H431.48M429.68 855.79V857.53" stroke="#000" stroke-width="1.1" fill="none"/>
<path d="M431.39 856.01H434.99M431.39 857.75H434.99M433.19 856.01V857.75" stroke="#000" stroke-width="1.1" fill="none"/>
<path d="M434.91 857.58H438.51M434.91 859.30H438.51M436.71 857.58V859.30" stroke="#000" stroke-width="1.1" fill="none"/>
<path d="M438.42 858.16H442.02M438.42 859.89H442.02M440.22 858.16V859.89" stroke="#000" stroke-width="1.1" fill="none"/>
<path d="M441.94 858.85H445.54M441.94 860.58H445.54M443.74 858.85V860.58" stroke="#000" stroke-width="1.1" fill="none"/>
<path d="M445.45 859.38H449.05M445.45 861.10H449.05M447.25 859.38V861.10" stroke="#000" stroke-width="1.1" fill="none"/>
<path d="M448.96 859.42H452.56M448.96 861.14H452.56M450.76 859.42V861.14" stroke="#000" stroke-width="1.1" fill="none"/>
<path d="M452.48 859.45H456.08M452.48 861.18H456.08M454.28 859.45V861.18" stroke="#000" stroke-width="1.1" fill="none"/>
<path d="M455.99 860.27H459.59M455.99 861.99H459.59M457.79 860.27V861.99" stroke="#000" stroke-width="1.1" fill="none"/>
<path d="M459.50 861.10H463.10M459.50 862.82H463.10M461.30 861.10V862.82" stroke="#000" stroke-width="1.1" fill="none"/>
<path d="M463.02 861.88H466.62M463.02 863.61H466.62M464.82 861.88V863.61" stroke="#000" stroke-width="1.1" fill="none"/>
<path d="M466.53 861.98H470.13M466.53 863.71H470.13M468.33 861.98V863.71" stroke="#000" stroke-width="1.1" fill="none"/>
<path d="M470.04 862.47H473.64M470.04 864.19H473.64M471.84 862.47V864.19" stroke="#000" stroke-width="1.1" fill="none"/>
<path d="M473.56 863.04H477.16M473.56 864.76H477.16M475.36 863.04V864.76" stroke="#000" stroke-width="1.1" fill="none"/>
<path d="M477.07 863.68H480.67M477.07 865.41H480.67M478.87 863.68V865.41" stroke="#000" stroke-width="1.1" fill="none"/>
<path d="M480.58 864.08H484.18M480.58 865.80H484.18M482.38 864.08V865.80" stroke="#000" stroke-width="1.1" fill="none"/>
<path d="M484.10 864.14H487.70M484.10 865.86H487.70M485.90 864.14V865.86" stroke="#000" stroke-width="1.1" fill="none"/>
<path d="M487.61 863.90H491.21M487.61 865.62H491.21M489.41 863.90V865.62" stroke="#000" stroke-width="1.1" fill="none"/>
<path d="M491.12 863.65H494.72M491.12 865.38H494.72M492.92 863.65V865.38" stroke="#000" stroke-width="1.1" fill="none"/>
<path d="M494.64 863.87H498.24M494.64 865.60H498.24M496.44 863.87V865.60" stroke="#000" stroke-width="1.1" fill="none"/>
<path d="M498.15 863.79H501.75M498.15 865.52H501.75M499.95 863.79V865.52" stroke="#000" stroke-width="1.1" fill="none"/>
<path d="M501.66 863.99H505.26M501.66 865.71H505.26M503.46 863.99V865.71" stroke="#000" stroke-width="1.1" fill="none"/>
<path d="M505.18 864.97H508.78M505.18 866.70H508.78M506.98 864.97V866.70" stroke="#000" stroke-width="1.1" fill="none"/>
<path d="M508.69 865.96H512.29M508.69 867.69H512.29M510.49 865.96V867.69" stroke="#000" stroke-width="1.1" fill="none"/>
<path d="M512.20 866.42H515.80M512.20 868.15H515.80M514.00 866.42V868.15" stroke="#000" stroke-width="1.1" fill="none"/>
<path d="M515.72 866.84H519.32M515.72 868.57H519.32M517.52 866.84V868.57" stroke="#000" stroke-width="1.1" fill="none"/>
<path d="M519.23 866.27H522.83M519.23 868.00H522.83M521.03 866.27V868.00" stroke="#000" stroke-width="1.1" fill="none"/>
<path d="M522.74 865.90H526.34M522.74 867.62H526.34M524.54 865.90V867.62" stroke="#000" stroke-width="1.1" fill="none"/>
<path d="M526.26 865.49H529.86M526.26 867.21H529.86M528.06 865.49V867.21" stroke="#000" stroke-width="1.1" fill="none"/>
<path d="M529.77 866.10H533.37M529.77 867.83H533.37M531.57 866.10V867.83" stroke="#000" stroke-width="1.1" fill="none"/>
<path d="M533.28 866.73H536.88M533.28 868.46H536.88M535.08 866.73V868.46" stroke="#000" stroke-width="1.1" fill="none"/>
<path d="M536.80 867.55H540.40M536.80 869.27H540.40M538.60 867.55V869.27" stroke="#000" stroke-width="1.1" fill="none"/>
<path d="M540.31 867.16H543.91M540.31 868.88H543.91M542.11 867.16V868.88" stroke="#000" stroke-width="1.1" fill="none"/>
<path d="M543.83 866.55H547.43M543.83 868.28H547.43M545.63 866.55V868.28" stroke="#000" stroke-width="1.1" fill="none"/>
<path d="M547.34 866.00H550.94M547.34 867.73H550.94M549.14 866.00V867.73" stroke="#000" stroke-width="1.1" fill="none"/>
<path d="M550.85 865.40H554.45M550.85 867.13H554.45M552.65 865.40V867.13" stroke="#000" stroke-width="1.1" fill="none"/>
<path d="M554.37 865.31H557.97M554.37 867.04H557.97M556.17 865.31V867.04" stroke="#000" stroke-width="1.1" fill="none"/>
<path d="M557.88 864.90H561.48M557.88 866.62H561.48M559.68 864.90V866.62" stroke="#000" stroke-width="1.1" fill="none"/>
<path d="M561.39 863.98H564.99M561.39 867.02H564.99M563.19 863.98V867.02" stroke="#000" stroke-width="1.1" fill="none"/>
<path d="M564.91 859.88H568.51M564.91 862.92H568.51M566.71 859.88V862.92" stroke="#000" stroke-width="1.1" fill="none"/>
<path d="M568.42 857.58H572.02M568.42 860.62H572.02M570.22 857.58V860.62" stroke="#000" stroke-width="1.1" fill="none"/>
<path d="M571.93 855.78H575.53M571.93 858.82H575.53M573.73 855.78V858.82" stroke="#000" stroke-width="1.1" fill="none"/>
<path d="M575.45 854.15H579.05M575.45 859.73H579.05M577.25 854.15V859.73" stroke="#000" stroke-width="1.1" fill="none"/>
<path d="M578.96 854.14H582.56M578.96 860.99H582.56M580.76 854.14V860.99" stroke="#000" stroke-width="1.1" fill="none"/>
<path d="M582.47 859.43H586.07M582.47 867.55H586.07M584.27 859.43V867.55" stroke="#000" stroke-width="1.1" fill="none"/>
<path d="M585.99 860.10H589.59M585.99 869.49H589.59M587.79 860.10V869.49" stroke="#000" stroke-width="1.1" fill="none"/>
<path d="M589.50 860.36H593.10M589.50 871.01H593.10M591.30 860.36V871.01" stroke="#000" stroke-width="1.1" fill="none"/>
<path d="M593.01 860.89H596.61M593.01 872.81H596.61M594.81 860.89V872.81" stroke="#000" stroke-width="1.1" fill="none"/>
<line x1="153.7" x2="153.7" y1="724.3" y2="876.5" stroke="#222" stroke-width="1.05"/>
<line x1="153.7" x2="601.5" y1="876.5" y2="876.5" stroke="#222" stroke-width="0.7"/>
<path d="M155.63 876.5v1.7M159.15 876.5v1.7M162.66 876.5v1.7M166.17 876.5v1.7M169.69 876.5v1.7M173.20 876.5v1.7M176.71 876.5v1.7M180.23 876.5v1.7M183.74 876.5v1.7M187.25 876.5v1.7M190.77 876.5v1.7M194.28 876.5v1.7M197.79 876.5v1.7M201.31 876.5v1.7M204.82 876.5v1.7M208.33 876.5v1.7M211.85 876.5v1.7M215.36 876.5v1.7M218.87 876.5v1.7M222.39 876.5v1.7M225.90 876.5v1.7M229.42 876.5v1.7M232.93 876.5v1.7M236.44 876.5v1.7M239.96 876.5v1.7M243.47 876.5v1.7M246.98 876.5v1.7M250.50 876.5v1.7M254.01 876.5v1.7M257.52 876.5v1.7M261.04 876.5v1.7M264.55 876.5v1.7M268.06 876.5v1.7M271.58 876.5v1.7M275.09 876.5v1.7M278.60 876.5v1.7M282.12 876.5v1.7M285.63 876.5v1.7M289.14 876.5v1.7M292.66 876.5v1.7M296.17 876.5v1.7M299.68 876.5v1.7M303.20 876.5v1.7M306.71 876.5v1.7M310.22 876.5v1.7M313.74 876.5v1.7M317.25 876.5v1.7M320.76 876.5v1.7M324.28 876.5v1.7M327.79 876.5v1.7M331.31 876.5v1.7M334.82 876.5v1.7M338.33 876.5v1.7M341.85 876.5v1.7M345.36 876.5v1.7M348.87 876.5v1.7M352.39 876.5v1.7M355.90 876.5v1.7M359.41 876.5v1.7M362.93 876.5v1.7M366.44 876.5v1.7M369.95 876.5v1.7M373.47 876.5v1.7M376.98 876.5v1.7M380.49 876.5v1.7M384.01 876.5v1.7M387.52 876.5v1.7M391.03 876.5v1.7M394.55 876.5v1.7M398.06 876.5v1.7M401.57 876.5v1.7M405.09 876.5v1.7M408.60 876.5v1.7M412.11 876.5v1.7M415.63 876.5v1.7M419.14 876.5v1.7M422.65 876.5v1.7M426.17 876.5v1.7M429.68 876.5v1.7M433.19 876.5v1.7M436.71 876.5v1.7M440.22 876.5v1.7M443.74 876.5v1.7M447.25 876.5v1.7M450.76 876.5v1.7M454.28 876.5v1.7M457.79 876.5v1.7M461.30 876.5v1.7M464.82 876.5v1.7M468.33 876.5v1.7M471.84 876.5v1.7M475.36 876.5v1.7M478.87 876.5v1.7M482.38 876.5v1.7M485.90 876.5v1.7M489.41 876.5v1.7M492.92 876.5v1.7M496.44 876.5v1.7M499.95 876.5v1.7M503.46 876.5v1.7M506.98 876.5v1.7M510.49 876.5v1.7M514.00 876.5v1.7M517.52 876.5v1.7M521.03 876.5v1.7M524.54 876.5v1.7M528.06 876.5v1.7M531.57 876.5v1.7M535.08 876.5v1.7M538.60 876.5v1.7M542.11 876.5v1.7M545.63 876.5v1.7M549.14 876.5v1.7M552.65 876.5v1.7M556.17 876.5v1.7M559.68 876.5v1.7M563.19 876.5v1.7M566.71 876.5v1.7M570.22 876.5v1.7M573.73 876.5v1.7M577.25 876.5v1.7M580.76 876.5v1.7M584.27 876.5v1.7M587.79 876.5v1.7M591.30 876.5v1.7M594.81 876.5v1.7M598.33 876.5v1.7" stroke="#222" stroke-width="0.8" fill="none"/>
<line x1="151.2" x2="153.7" y1="876.50" y2="876.50" stroke="#222" stroke-width="1.05"/>
<text x="148.2" y="880.10" font-size="10.2" text-anchor="end" fill="#111" stroke="#111" stroke-width="0.15">0</text>
<line x1="151.2" x2="153.7" y1="825.77" y2="825.77" stroke="#222" stroke-width="1.05"/>
<text x="148.2" y="829.37" font-size="10.2" text-anchor="end" fill="#111" stroke="#111" stroke-width="0.15">2.000</text>
<line x1="151.2" x2="153.7" y1="775.03" y2="775.03" stroke="#222" stroke-width="1.05"/>
<text x="148.2" y="778.63" font-size="10.2" text-anchor="end" fill="#111" stroke="#111" stroke-width="0.15">4.000</text>
<line x1="151.2" x2="153.7" y1="724.30" y2="724.30" stroke="#222" stroke-width="1.05"/>
<text x="148.2" y="727.90" font-size="10.2" text-anchor="end" fill="#111" stroke="#111" stroke-width="0.15">6.000</text>
<line x1="173.20" x2="173.20" y1="876.5" y2="879.5" stroke="#222" stroke-width="1.0"/>
<text transform="translate(175.80,883.70) rotate(-41)" font-size="9.8" text-anchor="end" fill="#111" stroke="#111" stroke-width="0.15">24.02.</text>
<line x1="197.79" x2="197.79" y1="876.5" y2="879.5" stroke="#222" stroke-width="1.0"/>
<text transform="translate(200.39,883.70) rotate(-41)" font-size="9.8" text-anchor="end" fill="#111" stroke="#111" stroke-width="0.15">02.03.</text>
<line x1="222.39" x2="222.39" y1="876.5" y2="879.5" stroke="#222" stroke-width="1.0"/>
<text transform="translate(224.99,883.70) rotate(-41)" font-size="9.8" text-anchor="end" fill="#111" stroke="#111" stroke-width="0.15">09.03.</text>
<line x1="246.98" x2="246.98" y1="876.5" y2="879.5" stroke="#222" stroke-width="1.0"/>
<text transform="translate(249.58,883.70) rotate(-41)" font-size="9.8" text-anchor="end" fill="#111" stroke="#111" stroke-width="0.15">16.03.</text>
<line x1="271.58" x2="271.58" y1="876.5" y2="879.5" stroke="#222" stroke-width="1.0"/>
<text transform="translate(274.18,883.70) rotate(-41)" font-size="9.8" text-anchor="end" fill="#111" stroke="#111" stroke-width="0.15">23.03.</text>
<line x1="296.17" x2="296.17" y1="876.5" y2="879.5" stroke="#222" stroke-width="1.0"/>
<text transform="translate(298.77,883.70) rotate(-41)" font-size="9.8" text-anchor="end" fill="#111" stroke="#111" stroke-width="0.15">30.03.</text>
<line x1="320.76" x2="320.76" y1="876.5" y2="879.5" stroke="#222" stroke-width="1.0"/>
<text transform="translate(323.36,883.70) rotate(-41)" font-size="9.8" text-anchor="end" fill="#111" stroke="#111" stroke-width="0.15">06.04.</text>
<line x1="345.36" x2="345.36" y1="876.5" y2="879.5" stroke="#222" stroke-width="1.0"/>
<text transform="translate(347.96,883.70) rotate(-41)" font-size="9.8" text-anchor="end" fill="#111" stroke="#111" stroke-width="0.15">13.04.</text>
<line x1="369.95" x2="369.95" y1="876.5" y2="879.5" stroke="#222" stroke-width="1.0"/>
<text transform="translate(372.55,883.70) rotate(-41)" font-size="9.8" text-anchor="end" fill="#111" stroke="#111" stroke-width="0.15">20.04.</text>
<line x1="394.55" x2="394.55" y1="876.5" y2="879.5" stroke="#222" stroke-width="1.0"/>
<text transform="translate(397.15,883.70) rotate(-41)" font-size="9.8" text-anchor="end" fill="#111" stroke="#111" stroke-width="0.15">27.04.</text>
<line x1="419.14" x2="419.14" y1="876.5" y2="879.5" stroke="#222" stroke-width="1.0"/>
<text transform="translate(421.74,883.70) rotate(-41)" font-size="9.8" text-anchor="end" fill="#111" stroke="#111" stroke-width="0.15">04.05.</text>
<line x1="443.74" x2="443.74" y1="876.5" y2="879.5" stroke="#222" stroke-width="1.0"/>
<text transform="translate(446.34,883.70) rotate(-41)" font-size="9.8" text-anchor="end" fill="#111" stroke="#111" stroke-width="0.15">11.05.</text>
<line x1="468.33" x2="468.33" y1="876.5" y2="879.5" stroke="#222" stroke-width="1.0"/>
<text transform="translate(470.93,883.70) rotate(-41)" font-size="9.8" text-anchor="end" fill="#111" stroke="#111" stroke-width="0.15">18.05.</text>
<line x1="492.92" x2="492.92" y1="876.5" y2="879.5" stroke="#222" stroke-width="1.0"/>
<text transform="translate(495.52,883.70) rotate(-41)" font-size="9.8" text-anchor="end" fill="#111" stroke="#111" stroke-width="0.15">25.05.</text>
<line x1="517.52" x2="517.52" y1="876.5" y2="879.5" stroke="#222" stroke-width="1.0"/>
<text transform="translate(520.12,883.70) rotate(-41)" font-size="9.8" text-anchor="end" fill="#111" stroke="#111" stroke-width="0.15">01.06.</text>
<line x1="542.11" x2="542.11" y1="876.5" y2="879.5" stroke="#222" stroke-width="1.0"/>
<text transform="translate(544.71,883.70) rotate(-41)" font-size="9.8" text-anchor="end" fill="#111" stroke="#111" stroke-width="0.15">08.06.</text>
<line x1="566.71" x2="566.71" y1="876.5" y2="879.5" stroke="#222" stroke-width="1.0"/>
<text transform="translate(569.31,883.70) rotate(-41)" font-size="9.8" text-anchor="end" fill="#111" stroke="#111" stroke-width="0.15">15.06.</text>
<line x1="591.30" x2="591.30" y1="876.5" y2="879.5" stroke="#222" stroke-width="1.0"/>
<text transform="translate(593.90,883.70) rotate(-41)" font-size="9.8" text-anchor="end" fill="#111" stroke="#111" stroke-width="0.15">22.06.</text>
<text x="377.6" y="912.6" font-size="10.2" text-anchor="middle" fill="#111" stroke="#111" stroke-width="0.15">Datum des Erkrankungsbeginn</text>
<text transform="translate(114,800.4) rotate(-90)" font-size="9.6" text-anchor="middle" fill="#111" stroke="#111" stroke-width="0.15" textLength="76" lengthAdjust="spacingAndGlyphs">Anzahl neuer Fälle</text>
<text x="291.3" y="692" font-size="10.2" text-anchor="end" fill="#111" stroke="#111" stroke-width="0.15">Fälle:</text>
<rect x="306.3" y="684.0" width="39.3" height="8.6" fill="#2676ab"/>
<text x="351.2" y="692.0" font-size="10.2" fill="#111" stroke="#111" stroke-width="0.15">Erkrankungsbeginn angegeben</text>
<rect x="306.3" y="696.4" width="39.3" height="8.6" fill="#b3b3b3"/>
<text x="351.2" y="704.4" font-size="10.2" fill="#111" stroke="#111" stroke-width="0.15">Erkrankungsbeginn imputiert</text>
<rect x="306.3" y="708.9" width="39.3" height="8.6" fill="#8dbbe0"/>
<text x="351.2" y="716.9" font-size="10.2" fill="#111" stroke="#111" stroke-width="0.15">Nowcast</text>
<path d="M512.6 700.6H552.8M512.6 699.0V702.2M552.8 699.0V702.2" stroke="#222" stroke-width="0.95" fill="none"/>
<text x="558.3" y="704.3" font-size="10.2" fill="#111" stroke="#111" stroke-width="0.15">95%-PI</text>
<path d="M512.6 713.0H552.8M512.6 711.4V714.6M552.8 711.4V714.6" stroke="#222" stroke-width="0.95" fill="none"/>
<text x="558.3" y="716.7" font-size="10.2" fill="#111" stroke="#111" stroke-width="0.15">95%-PI</text>
</svg>
<div class="t" style="font-size:9.9px;line-height:14px;top:16.52px;color:#000;-webkit-text-stroke:0.2px #000;left:81.60px;transform-origin:0 0;transform:scaleX(0.8740);">Bundesministerium</div>
<div class="t" style="font-size:9.9px;line-height:14px;top:26.52px;color:#000;-webkit-text-stroke:0.2px #000;left:81.60px;transform-origin:0 0;transform:scaleX(0.8706);">für Gesundheit</div>
<div class="t" style="font-size:9.9px;line-height:14px;top:16.52px;color:#000;-webkit-text-stroke:0.2px #000;left:167.60px;transform-origin:0 0;transform:scaleX(0.8740);">Bundesministerium</div>
<div class="t" style="font-size:9.9px;line-height:14px;top:26.52px;color:#000;-webkit-text-stroke:0.2px #000;left:167.60px;transform-origin:0 0;transform:scaleX(0.8548);">des Innern, für Bau</div>
<div class="t" style="font-size:9.9px;line-height:14px;top:37.52px;color:#000;-webkit-text-stroke:0.2px #000;left:167.60px;transform-origin:0 0;transform:scaleX(0.8792);">und Heimat</div>
<div class="t" style="font-size:13.4px;line-height:19px;top:55.02px;color:#000;-webkit-text-stroke:0.15px #000;left:231.80px;transform-origin:0 0;transform:scaleX(0.9302);">VS – NUR FÜR DEN DIENSTGEBRAUCH</div>
<div class="t" style="font-size:13.6px;line-height:19px;top:89.02px;color:#263e6e;letter-spacing:0.8px;-webkit-text-stroke:0.15px #263e6e;left:84.30px;transform-origin:0 0;transform:scaleX(0.8559);">1.1.4</div>
<div class="t" style="font-size:13.6px;line-height:19px;top:89.02px;color:#263e6e;letter-spacing:0.8px;-webkit-text-stroke:0.15px #263e6e;left:125.70px;transform-origin:0 0;transform:scaleX(0.9516);">COVID-19 FÄLLE IN EINRICHTUNGEN GEMÄSS INFEKTIONSSCHUTZ-</div>
<div class="t" style="font-size:13.6px;line-height:19px;top:107.02px;color:#263e6e;letter-spacing:0.8px;-webkit-text-stroke:0.15px #263e6e;left:125.70px;transform-origin:0 0;transform:scaleX(0.8706);">GESETZ (IFSG)</div>
<div class="t" style="font-size:13.4px;line-height:19px;top:149.02px;color:#fff;-webkit-text-stroke:0.25px #fff;left:89.80px;transform-origin:0 0;transform:scaleX(0.9104);">Einrichtung</div>
<div class="t" style="font-size:13.4px;line-height:19px;top:164.02px;color:#fff;-webkit-text-stroke:0.25px #fff;left:89.80px;transform-origin:0 0;transform:scaleX(0.8516);">gemäß</div>
<div class="t" style="font-size:13.2px;line-height:18px;top:143.52px;color:#fff;-webkit-text-stroke:0.25px #fff;left:16.60px;width:600px;text-align:center;transform-origin:50% 0;transform:scaleX(0.9121);">Bestätigte</div>
<div class="t" style="font-size:13.2px;line-height:18px;top:159.52px;color:#fff;-webkit-text-stroke:0.25px #fff;left:16.60px;width:600px;text-align:center;transform-origin:50% 0;transform:scaleX(0.8918);">Fälle</div>
<div class="t" style="font-size:13.2px;line-height:18px;top:143.52px;color:#fff;-webkit-text-stroke:0.25px #fff;left:108.50px;width:600px;text-align:center;transform-origin:50% 0;transform:scaleX(0.9470);">Hospitalisiert</div>
<div class="t" style="font-size:13.2px;line-height:18px;top:143.52px;color:#fff;-webkit-text-stroke:0.25px #fff;left:200.20px;width:600px;text-align:center;transform-origin:50% 0;transform:scaleX(0.8298);">Genesene</div>
<div class="t" style="font-size:13.2px;line-height:18px;top:143.52px;color:#fff;-webkit-text-stroke:0.25px #fff;left:279.30px;width:600px;text-align:center;transform-origin:50% 0;transform:scaleX(0.9177);">Todesfälle</div>
<div class="t" style="font-size:12.6px;line-height:18px;top:205.02px;color:#000;font-weight:700;left:90.20px;transform-origin:0 0;transform:scaleX(0.9324);">§ 23 IfSG<sup>*</sup></div>
<div class="t" style="font-size:12.6px;line-height:18px;top:249.02px;color:#000;font-weight:700;left:90.20px;transform-origin:0 0;transform:scaleX(0.9451);">§ 36 IfSG<sup>**</sup></div>
<div class="t" style="font-size:10.0px;line-height:14px;top:193.52px;color:#000;-webkit-text-stroke:0.15px #000;left:164.30px;transform-origin:0 0;transform:scaleX(1.0131);">Betreut/untergebracht</div>
<div class="t" style="font-size:10.0px;line-height:14px;top:209.52px;color:#000;-webkit-text-stroke:0.15px #000;left:164.30px;transform-origin:0 0;transform:scaleX(0.9760);">Personal tätig in</div>
<div class="t" style="font-size:10.0px;line-height:14px;top:222.52px;color:#000;-webkit-text-stroke:0.15px #000;left:164.30px;transform-origin:0 0;transform:scaleX(0.9994);">Einrichtung</div>
<div class="t" style="font-size:10.0px;line-height:14px;top:237.52px;color:#000;-webkit-text-stroke:0.15px #000;left:164.30px;transform-origin:0 0;transform:scaleX(1.0131);">Betreut/untergebracht</div>
<div class="t" style="font-size:10.0px;line-height:14px;top:252.52px;color:#000;-webkit-text-stroke:0.15px #000;left:164.30px;transform-origin:0 0;transform:scaleX(0.9760);">Personal tätig in</div>
<div class="t" style="font-size:10.0px;line-height:14px;top:265.52px;color:#000;-webkit-text-stroke:0.15px #000;left:164.30px;transform-origin:0 0;transform:scaleX(0.9994);">Einrichtung</div>
<div class="t" style="font-size:10.7px;line-height:15px;top:193.52px;color:#000;-webkit-text-stroke:0.15px #000;right:348.30px;transform-origin:100% 0;transform:scaleX(0.9600);">3.350 (+5)</div>
<div class="t" style="font-size:10.7px;line-height:15px;top:193.52px;color:#000;-webkit-text-stroke:0.15px #000;right:264.20px;transform-origin:100% 0;transform:scaleX(0.9600);">2.392 (+2)</div>
<div class="t" style="font-size:10.7px;line-height:15px;top:193.52px;color:#000;-webkit-text-stroke:0.15px #000;right:164.60px;transform-origin:100% 0;transform:scaleX(0.9600);">2.600 (+<span style="letter-spacing:1px">/-</span>0)</div>
<div class="t" style="font-size:10.7px;line-height:15px;top:193.52px;color:#000;-webkit-text-stroke:0.15px #000;right:90.00px;transform-origin:100% 0;transform:scaleX(0.9600);">621 (+<span style="letter-spacing:1px">/-</span>0)</div>
<div class="t" style="font-size:10.7px;line-height:15px;top:215.52px;color:#000;-webkit-text-stroke:0.15px #000;right:348.30px;transform-origin:100% 0;transform:scaleX(0.9600);">13.806 (+4)</div>
<div class="t" style="font-size:10.7px;line-height:15px;top:215.52px;color:#000;-webkit-text-stroke:0.15px #000;right:264.20px;transform-origin:100% 0;transform:scaleX(0.9600);">635 (+<span style="letter-spacing:1px">/-</span>0)</div>
<div class="t" style="font-size:10.7px;line-height:15px;top:215.52px;color:#000;-webkit-text-stroke:0.15px #000;right:164.60px;transform-origin:100% 0;transform:scaleX(0.9600);">13.700 (+<span style="letter-spacing:1px">/-</span>0)</div>
<div class="t" style="font-size:10.7px;line-height:15px;top:215.52px;color:#000;-webkit-text-stroke:0.15px #000;right:90.00px;transform-origin:100% 0;transform:scaleX(0.9600);">20 (+<span style="letter-spacing:1px">/-</span>0)</div>
<div class="t" style="font-size:10.7px;line-height:15px;top:237.52px;color:#000;-webkit-text-stroke:0.15px #000;right:348.30px;transform-origin:100% 0;transform:scaleX(0.9600);">17.806 (+10)</div>
<div class="t" style="font-size:10.7px;line-height:15px;top:237.52px;color:#000;-webkit-text-stroke:0.15px #000;right:264.20px;transform-origin:100% 0;transform:scaleX(0.9600);">4.056 (+1)</div>
<div class="t" style="font-size:10.7px;line-height:15px;top:237.52px;color:#000;-webkit-text-stroke:0.15px #000;right:164.60px;transform-origin:100% 0;transform:scaleX(0.9600);">13.900 (+<span style="letter-spacing:1px">/-</span>0)</div>
<div class="t" style="font-size:10.7px;line-height:15px;top:237.52px;color:#000;-webkit-text-stroke:0.15px #000;right:90.00px;transform-origin:100% 0;transform:scaleX(0.9600);">3.529 (+<span style="letter-spacing:1px">/-</span>0)</div>
<div class="t" style="font-size:10.7px;line-height:15px;top:259.52px;color:#000;-webkit-text-stroke:0.15px #000;right:348.30px;transform-origin:100% 0;transform:scaleX(0.9600);">9.872 (+1)</div>
<div class="t" style="font-size:10.7px;line-height:15px;top:259.52px;color:#000;-webkit-text-stroke:0.15px #000;right:264.20px;transform-origin:100% 0;transform:scaleX(0.9600);">422 (+<span style="letter-spacing:1px">/-</span>0)</div>
<div class="t" style="font-size:10.7px;line-height:15px;top:259.52px;color:#000;-webkit-text-stroke:0.15px #000;right:164.60px;transform-origin:100% 0;transform:scaleX(0.9600);">9.800 (+<span style="letter-spacing:1px">/-</span>0)</div>
<div class="t" style="font-size:10.7px;line-height:15px;top:259.52px;color:#000;-webkit-text-stroke:0.15px #000;right:90.00px;transform-origin:100% 0;transform:scaleX(0.9600);">45 (-1)<sup>***</sup></div>
<div class="t" style="font-size:10.0px;line-height:14px;top:278.52px;color:#000;letter-spacing:0.3px;-webkit-text-stroke:0.15px #000;right:83.00px;transform-origin:100% 0;transform:scaleX(0.9458);"><sup>*</sup> Z.B. KRANKENHÄUSER, ÄRZTLICHE PRAXEN, DIALYSEEINRICHTUNGEN UND RETTUNGSDIENSTE,</div>
<div class="t" style="font-size:10.0px;line-height:14px;top:291.52px;color:#000;letter-spacing:0.3px;-webkit-text-stroke:0.15px #000;right:83.00px;transform-origin:100% 0;transform:scaleX(0.9350);"><sup>**</sup> Z.B. PFLEGEEINRICHTUNGEN, UNTERKÜNFTE FÜR OBDACHLOSE ODER ASYLSUCHENDEN, JVA ETC.,</div>
<div class="t" style="font-size:10.0px;line-height:14px;top:304.52px;color:#000;letter-spacing:0.3px;-webkit-text-stroke:0.15px #000;right:83.00px;transform-origin:100% 0;transform:scaleX(0.9811);"><sup>***</sup>DATENKORREKTUR</div>
<div class="t" style="font-size:10.0px;line-height:14px;top:317.52px;color:#000;letter-spacing:0.3px;-webkit-text-stroke:0.15px #000;right:83.00px;transform-origin:100% 0;transform:scaleX(0.9583);">STAND 28.06.2020</div>
<div class="t" style="font-size:13.6px;line-height:19px;top:351.02px;color:#263e6e;letter-spacing:0.8px;-webkit-text-stroke:0.15px #263e6e;left:84.30px;transform-origin:0 0;transform:scaleX(0.8763);">1.1.5</div>
<div class="t" style="font-size:13.6px;line-height:19px;top:351.02px;color:#263e6e;letter-spacing:0.8px;-webkit-text-stroke:0.15px #263e6e;left:125.70px;transform-origin:0 0;transform:scaleX(0.9415);">REPRODUKTIONSZAHL R</div>
<div class="t" style="font-size:9.4px;line-height:13px;top:387.02px;color:#fff;font-weight:700;left:-179.40px;width:600px;text-align:center;transform-origin:50% 0;transform:scaleX(0.9000);">22.06.2020</div>
<div class="t" style="font-size:9.4px;line-height:13px;top:397.02px;color:#fff;font-weight:700;left:-179.40px;width:600px;text-align:center;transform-origin:50% 0;transform:scaleX(0.9000);">2,76</div>
<div class="t" style="font-size:9.4px;line-height:13px;top:407.02px;color:#fff;font-weight:700;left:-179.40px;width:600px;text-align:center;transform-origin:50% 0;transform:scaleX(0.9000);">[2,10-3,42]</div>
<div class="t" style="font-size:9.4px;line-height:13px;top:387.02px;color:#fff;font-weight:700;left:-102.65px;width:600px;text-align:center;transform-origin:50% 0;transform:scaleX(0.9000);">23.06.2020</div>
<div class="t" style="font-size:9.4px;line-height:13px;top:397.02px;color:#fff;font-weight:700;left:-102.65px;width:600px;text-align:center;transform-origin:50% 0;transform:scaleX(0.9000);">2,02</div>
<div class="t" style="font-size:9.4px;line-height:13px;top:407.02px;color:#fff;font-weight:700;left:-102.65px;width:600px;text-align:center;transform-origin:50% 0;transform:scaleX(0.9000);">[1,53-2,41]</div>
<div class="t" style="font-size:9.4px;line-height:13px;top:387.02px;color:#fff;font-weight:700;left:-25.90px;width:600px;text-align:center;transform-origin:50% 0;transform:scaleX(0.9000);">24.06.2020</div>
<div class="t" style="font-size:9.4px;line-height:13px;top:397.02px;color:#fff;font-weight:700;left:-25.90px;width:600px;text-align:center;transform-origin:50% 0;transform:scaleX(0.9000);">0,72</div>
<div class="t" style="font-size:9.4px;line-height:13px;top:407.02px;color:#fff;font-weight:700;left:-25.90px;width:600px;text-align:center;transform-origin:50% 0;transform:scaleX(0.9000);">[0,56-0,91]</div>
<div class="t" style="font-size:9.4px;line-height:13px;top:387.02px;color:#fff;font-weight:700;left:50.85px;width:600px;text-align:center;transform-origin:50% 0;transform:scaleX(0.9000);">25.06.2020</div>
<div class="t" style="font-size:9.4px;line-height:13px;top:397.02px;color:#fff;font-weight:700;left:50.85px;width:600px;text-align:center;transform-origin:50% 0;transform:scaleX(0.9000);">0,59</div>
<div class="t" style="font-size:9.4px;line-height:13px;top:407.02px;color:#fff;font-weight:700;left:50.85px;width:600px;text-align:center;transform-origin:50% 0;transform:scaleX(0.9000);">[0,48-0,73]</div>
<div class="t" style="font-size:9.4px;line-height:13px;top:387.02px;color:#fff;font-weight:700;left:127.60px;width:600px;text-align:center;transform-origin:50% 0;transform:scaleX(0.9000);">26.06.2020</div>
<div class="t" style="font-size:9.4px;line-height:13px;top:397.02px;color:#fff;font-weight:700;left:127.60px;width:600px;text-align:center;transform-origin:50% 0;transform:scaleX(0.9000);">0,57</div>
<div class="t" style="font-size:9.4px;line-height:13px;top:407.02px;color:#fff;font-weight:700;left:127.60px;width:600px;text-align:center;transform-origin:50% 0;transform:scaleX(0.9000);">[0,48-0,70]</div>
<div class="t" style="font-size:9.4px;line-height:13px;top:387.02px;color:#fff;font-weight:700;left:204.35px;width:600px;text-align:center;transform-origin:50% 0;transform:scaleX(0.9000);">27.06.2020</div>
<div class="t" style="font-size:9.4px;line-height:13px;top:397.02px;color:#fff;font-weight:700;left:204.35px;width:600px;text-align:center;transform-origin:50% 0;transform:scaleX(0.9000);">0,62</div>
<div class="t" style="font-size:9.4px;line-height:13px;top:407.02px;color:#fff;font-weight:700;left:204.35px;width:600px;text-align:center;transform-origin:50% 0;transform:scaleX(0.9000);">[0,50-0,77]</div>
<div class="t" style="font-size:9.4px;line-height:13px;top:387.02px;color:#fff;font-weight:700;left:281.10px;width:600px;text-align:center;transform-origin:50% 0;transform:scaleX(0.9000);">28.06.2020</div>
<div class="t" style="font-size:9.4px;line-height:13px;top:397.02px;color:#fff;font-weight:700;left:281.10px;width:600px;text-align:center;transform-origin:50% 0;transform:scaleX(0.9000);">0,71</div>
<div class="t" style="font-size:9.4px;line-height:13px;top:407.02px;color:#fff;font-weight:700;left:281.10px;width:600px;text-align:center;transform-origin:50% 0;transform:scaleX(0.9000);">[0,59-0,84]</div>
<div class="t" style="font-size:10.0px;line-height:14px;top:445.52px;color:#000;letter-spacing:0.3px;-webkit-text-stroke:0.15px #000;right:83.00px;transform-origin:100% 0;transform:scaleX(1.0308);">QUELLE: RKI</div>
<div class="t" style="font-size:12.6px;line-height:18px;top:458.02px;color:#000;font-weight:700;left:84.00px;transform-origin:0 0;transform:scaleX(0.9832);">Erläuterung</div>
<div class="t" style="font-size:13.6px;line-height:19px;top:478.02px;color:#000;-webkit-text-stroke:0.22px #000;left:84.00px;width:570.05px;text-align:justify;text-align-last:justify;transform-origin:0 0;transform:scaleX(0.9350);">Die Reproduktionszahl R ist eine Kennzahl der Ausbruchsdynamik und beschreibt die durch-</div>
<div class="t" style="font-size:13.6px;line-height:19px;top:497.02px;color:#000;-webkit-text-stroke:0.22px #000;left:84.00px;width:570.05px;text-align:justify;text-align-last:justify;transform-origin:0 0;transform:scaleX(0.9350);">schnittliche Anzahl Personen, die durch eine infizierte Person angesteckt werden (R&gt;1, be-</div>
<div class="t" style="font-size:13.6px;line-height:19px;top:516.02px;color:#000;-webkit-text-stroke:0.22px #000;left:84.00px;width:570.05px;text-align:justify;text-align-last:justify;transform-origin:0 0;transform:scaleX(0.9350);">deutet <u>Zunahme</u> der Neuinfektionen; R=1, bedeutet <u>konstante Anzahl</u> neuer Fälle; R&lt;1, be-</div>
<div class="t" style="font-size:13.6px;line-height:19px;top:536.02px;color:#000;-webkit-text-stroke:0.22px #000;left:84.00px;width:570.05px;text-align:justify;text-align-last:justify;transform-origin:0 0;transform:scaleX(0.9350);">deutet <u>Abnahme</u> der Neuinfektionen). Diese lässt sich nicht aus den Meldedaten ablesen, son-</div>
<div class="t" style="font-size:13.6px;line-height:19px;top:555.02px;color:#000;-webkit-text-stroke:0.22px #000;left:84.00px;width:570.05px;text-align:justify;text-align-last:justify;transform-origin:0 0;transform:scaleX(0.9350);">dern nur durch statistische Verfahren, zum Beispiel auf der Basis des Nowcastings, schätzen.</div>
<div class="t" style="font-size:13.6px;line-height:19px;top:575.02px;color:#000;-webkit-text-stroke:0.22px #000;left:84.00px;width:570.05px;text-align:justify;text-align-last:justify;transform-origin:0 0;transform:scaleX(0.9350);">Die im Rahmen des Nowcastings geschätzte Anzahl der COVID-19-Neuerkrankungen wird als</div>
<div class="t" style="font-size:13.6px;line-height:19px;top:594.02px;color:#000;-webkit-text-stroke:0.22px #000;left:84.00px;width:570.05px;text-align:justify;text-align-last:justify;transform-origin:0 0;transform:scaleX(0.9350);">gleitendes 4-Tage-Mittel dargestellt, um Zufallseffekte einzelner Tage auszugleichen. Damit</div>
<div class="t" style="font-size:13.6px;line-height:19px;top:614.02px;color:#000;-webkit-text-stroke:0.22px #000;left:84.00px;width:570.05px;text-align:justify;text-align-last:justify;transform-origin:0 0;transform:scaleX(0.9350);">ergibt sich die Berechnung des Punktschätzers von R für einen bestimmten Tag als einfacher</div>
<div class="t" style="font-size:13.6px;line-height:19px;top:633.02px;color:#000;-webkit-text-stroke:0.22px #000;left:84.00px;width:570.05px;text-align:justify;text-align-last:justify;transform-origin:0 0;transform:scaleX(0.9350);">Quotient der Anzahl von Neuerkrankungen für diesen Tag geteilt durch die Anzahl von Neu-</div>
<div class="t" style="font-size:13.6px;line-height:19px;top:652.02px;color:#000;-webkit-text-stroke:0.22px #000;left:84.00px;transform-origin:0 0;transform:scaleX(0.9377);">erkrankungen 4 Tage davor.</div>
<div class="t" style="font-size:10.0px;line-height:14px;top:925.52px;color:#000;letter-spacing:0.3px;-webkit-text-stroke:0.15px #000;right:83.00px;transform-origin:100% 0;transform:scaleX(0.9417);">QUELLE: RKI, STAND 28.06.2020</div>
<div class="t" style="font-size:13.2px;line-height:18px;top:944.52px;color:#5b9bd5;letter-spacing:2.5px;-webkit-text-stroke:0.2px #5b9bd5;left:521.80px;transform-origin:0 0;transform:scaleX(1.0056);">Seite</div>
<div class="t" style="font-size:13.2px;line-height:18px;top:944.52px;color:#263e6e;-webkit-text-stroke:0.15px #263e6e;left:570.70px;transform-origin:0 0;transform:scaleX(0.9396);">4</div>
<div class="t" style="font-size:14.5px;line-height:20px;top:943.02px;color:#263e6e;left:281.70px;width:600px;text-align:center;transform-origin:50% 0;transform:scaleX(0.8000);">|</div>
<div class="t" style="font-size:13.2px;line-height:18px;top:944.52px;color:#263e6e;-webkit-text-stroke:0.15px #263e6e;left:587.40px;transform-origin:0 0;transform:scaleX(0.9065);">21</div>
</body></html>
